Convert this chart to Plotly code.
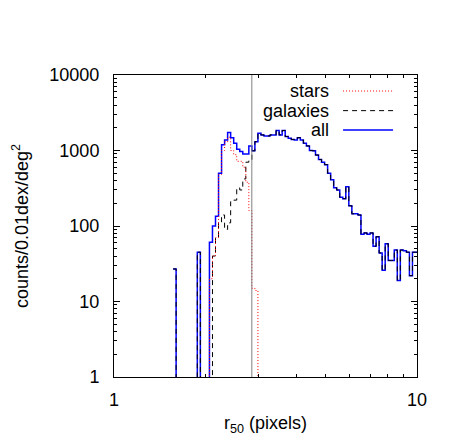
import numpy as np
import plotly.graph_objects as go

# histogram bins: 0.01 dex wide in log10(r50), first bin centred on log r50 = 0.20
LOG_FIRST_EDGE = 0.195
BIN_DEX = 0.01
CUT_R50 = 2.85

ALL_COUNTS = [
    27, 0, 0, 0, 0, 0, 0, 0, 45, 0,
    0, 0, 61, 100, 135, 500, 1190, 1380, 1730, 1480,
    1250, 1040, 970, 900, 900, 1150, 990, 1310, 1690, 1610,
    1560, 1560, 1610, 1610, 1840, 1610, 1840, 1530, 1450, 1400,
    1380, 1480, 1380, 1250, 1150, 1000, 990, 870, 760, 700,
    650, 500, 410, 320, 300, 240, 230, 330, 185, 145,
    145, 140, 78, 81, 78, 81, 54, 72, 44, 26,
    58, 35, 35, 48, 19, 48, 47, 45, 22, 45,
    45,
]
GALAXY_COUNTS = [
    27, 0, 0, 0, 0, 0, 0, 0, 45, 0,
    0, 0, 0, 40, 70, 110, 140, 90, 110, 210,
    220, 320, 300, 420, 700, 750, 990, 1310, 1690, 1610,
    1560, 1560, 1610, 1610, 1840, 1610, 1840, 1530, 1450, 1400,
    1380, 1480, 1380, 1250, 1150, 1000, 990, 870, 760, 700,
    650, 500, 410, 320, 300, 240, 230, 330, 185, 145,
    145, 140, 78, 81, 78, 81, 54, 72, 44, 26,
    58, 35, 35, 48, 19, 48, 47, 45, 22, 45,
    45,
]
STAR_COUNTS = [
    0, 0, 0, 0, 0, 0, 0, 0, 0, 0,
    0, 0, 20, 40, 70, 480, 1000, 1300, 1500, 1000,
    880, 720, 720, 600, 380, 160, 15, 14, 0, 0,
]

FONT = "Liberation Sans, Arial, sans-serif"


def step_xy(counts):
    """histogram steps on log x; empty bins pushed far below the axis"""
    counts = np.asarray(counts, dtype=float)
    edges = LOG_FIRST_EDGE + BIN_DEX * np.arange(len(counts) + 1)
    y = np.where(counts > 0, counts, 1e-3)
    return 10 ** edges, np.append(y, y[-1])


fig = go.Figure()

x, y = step_xy(ALL_COUNTS)
fig.add_trace(go.Scatter(x=x, y=y, mode="lines", line_shape="hv",
                         line=dict(color="#0000ff", width=1.5), name="all"))
x, y = step_xy(GALAXY_COUNTS)
fig.add_trace(go.Scatter(x=x, y=y, mode="lines", line_shape="hv",
                         line=dict(color="#000000", width=1, dash="5px,4px"),
                         name="galaxies"))
x, y = step_xy(STAR_COUNTS)
fig.add_trace(go.Scatter(x=x, y=y, mode="lines", line_shape="hv",
                         line=dict(color="#ff0000", width=1, dash="1px,2px"),
                         name="stars"))

fig.add_trace(go.Scatter(x=[CUT_R50, CUT_R50], y=[1, 10000], mode="lines",
                         line=dict(color="#808080", width=1), showlegend=False))

# gnuplot style key: right aligned text, sample line on the right
key = [("stars", "#ff0000", "1px,2px", 1, 0.947),
       ("galaxies", "#000000", "5px,4px", 1, 0.882),
       ("all", "#0000ff", "solid", 1.5, 0.818)]
for label, color, dash, width, ky in key:
    fig.add_annotation(x=0.716, y=ky, xref="paper", yref="paper", text=label,
                       showarrow=False, xanchor="right", yanchor="middle",
                       font=dict(family=FONT, size=18, color="black"))
    fig.add_shape(type="line", xref="paper", yref="paper",
                  x0=0.756, x1=0.921, y0=ky, y1=ky,
                  line=dict(color=color, width=width, dash=dash))

axis_common = dict(
    type="log", showgrid=False, zeroline=False, automargin=False,
    showline=True, linecolor="black", linewidth=1, mirror="ticks",
    ticks="inside", ticklen=6, tickcolor="black",
    minor=dict(ticks="inside", ticklen=3, tickcolor="black", dtick="D1", showgrid=False),
    tickfont=dict(family=FONT, size=18, color="black"),
)

fig.update_xaxes(range=[0, 1], dtick=1, tickvals=[1, 10], ticktext=["1", "10"],
                 title=dict(text="r<sub>50</sub> (pixels)", standoff=14,
                            font=dict(family=FONT, size=18, color="black")),
                 ticklabelstandoff=6, **axis_common)
fig.update_yaxes(range=[0, 4], dtick=1,
                 tickvals=[1, 10, 100, 1000, 10000],
                 ticktext=["1", "10", "100", "1000", "10000"],
                 title=dict(text="counts/0.01dex/deg<sup>2</sup>", standoff=16,
                            font=dict(family=FONT, size=18, color="black")),
                 ticklabelstandoff=10, **axis_common)

# page body adds an 8px offset, so margins are shifted to keep the plot box in place
fig.update_layout(
    width=442, height=428,
    margin=dict(l=106, r=33, t=67, b=59),
    plot_bgcolor="white", paper_bgcolor="white",
    showlegend=False,
)

fig.write_html("out.html")
